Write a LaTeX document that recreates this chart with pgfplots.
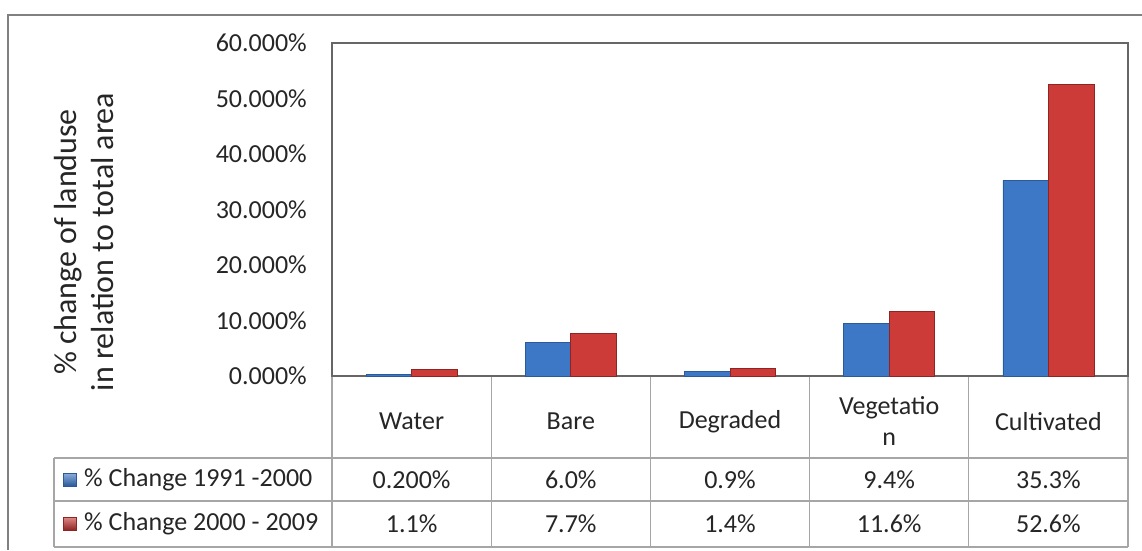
\documentclass[border=0pt]{standalone}
\usepackage{fontspec}
\setmainfont{Carlito}
\usepackage{pgfplots}
\pgfplotsset{compat=1.18}
\definecolor{barblue}{HTML}{3D78C6}
\definecolor{barblueD}{HTML}{2A5A9A}
\definecolor{barred}{HTML}{CC3B37}
\definecolor{barredD}{HTML}{8E2522}
\definecolor{txt}{HTML}{262626}
\definecolor{tblgray}{HTML}{A6A6A6}
\begin{document}
\fontsize{26}{31}\selectfont
\begin{tikzpicture}[x=1pt,y=1pt]
\useasboundingbox (0,0) rectangle (1142,550);
\fill[white] (0,0) rectangle (1142,550);
\draw[black!50, line width=2pt] (8,0) -- (8,535) -- (1142,535);
% table grid
\foreach \k in {0,...,5} {\draw[tblgray, line width=1.2pt] ({332+159.2*\k},174) -- ({332+159.2*\k},3);}
\draw[tblgray, line width=1.2pt] (54,92) -- (1128,92);
\draw[tblgray, line width=1.2pt] (54,49) -- (1128,49);
\draw[tblgray, line width=1.2pt] (54,3) -- (1128,3);
\draw[tblgray, line width=1.2pt] (54,92) -- (54,3);
\begin{axis}[
  at={(332pt,174pt)}, anchor=south west,
  scale only axis, width=796pt, height=333pt,
  xmin=-0.5, xmax=4.5, ymin=0, ymax=60,
  ytick={0,10,...,60},
  xtick={0,...,4},
  xticklabels={Water,Bare,Degraded,{Vegetatio\\n},Cultivated},
  ybar=0pt, bar width=45.5pt,
  axis line style={draw=black!60, line width=1.2pt},
  major tick style={draw=none},
  /pgf/number format/assume math mode=true,
  yticklabel={\pgfmathprintnumber[fixed,fixed zerofill,precision=3]{\tick}\%},
  tick label style={font=\fontsize{26}{31}\selectfont, text=txt},
  yticklabel style={anchor=east, inner sep=0pt, xshift=-25pt},
  xticklabel style={anchor=center, align=center, inner sep=0pt, yshift=-41pt},
  clip=false,
]
\addplot[fill=barblue, draw=barblueD, line width=0.8pt] coordinates {(0,0.2) (1,6.0) (2,0.9) (3,9.4) (4,35.3)};
\addplot[fill=barred, draw=barredD, line width=0.8pt] coordinates {(0,1.1) (1,7.7) (2,1.4) (3,11.6) (4,52.6)};
\end{axis}
% legend icons
\shade[top color=barblue!60, bottom color=barblueD, draw=barblueD] (63,64) rectangle (76,77);
\shade[top color=barred!60, bottom color=barredD, draw=barredD] (63,20) rectangle (76,33);
\node[anchor=west, inner sep=0pt, text=txt] at (84,70.5) {\% Change 1991 -2000};
\node[anchor=west, inner sep=0pt, text=txt] at (84,26) {\% Change 2000 - 2009};
% values
\foreach \v [count=\i from 0] in {0.200\%,6.0\%,0.9\%,9.4\%,35.3\%} {\node[text=txt] at ({411.6+159.2*\i},70.5) {\v};}
\foreach \v [count=\i from 0] in {1.1\%,7.7\%,1.4\%,11.6\%,52.6\%} {\node[text=txt] at ({411.6+159.2*\i},26) {\v};}
% y label
\node[rotate=90, align=center, text=txt, font=\fontsize{32}{37}\selectfont] at (84,308) {\% change of landuse\\in relation to total area};
\end{tikzpicture}
\end{document}
